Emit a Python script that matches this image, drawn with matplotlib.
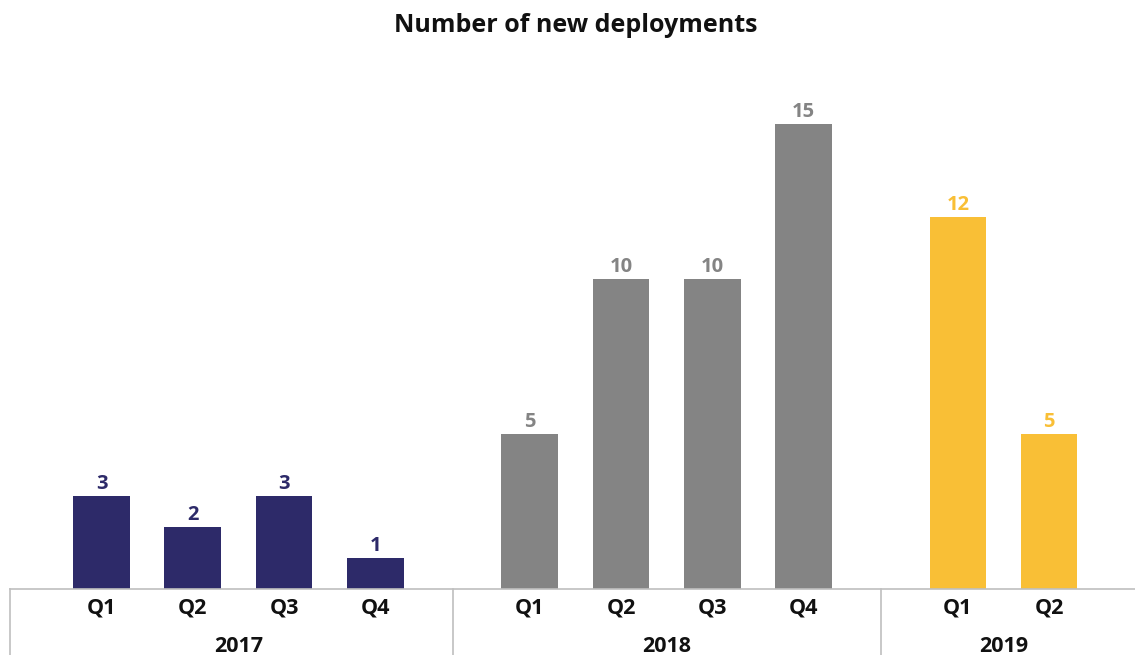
import matplotlib.pyplot as plt
import matplotlib.transforms as mtransforms
import numpy as np

plt.rcParams['font.family'] = ['Open Sans', 'DejaVu Sans']

years = ['2017', '2018', '2019']
quarters = [['Q1', 'Q2', 'Q3', 'Q4'],
            ['Q1', 'Q2', 'Q3', 'Q4'],
            ['Q1', 'Q2']]
values = [[3, 2, 3, 1],
          [5, 10, 10, 15],
          [12, 5]]
colors = ['#2D2A69', '#848484', '#F9BF36']

W, H = 1135, 655
fig = plt.figure(figsize=(W / 100, H / 100), dpi=100)
# axes box in pixels: left 10, right 1135, bottom at y=589, top at y=60
ax = fig.add_axes([10 / W, (H - 589) / H, 1125 / W, 529 / H])

gap = 1.69
pos = []
start = 0.0
for g, vals in enumerate(values):
    xs = start + np.arange(len(vals))
    pos.append(xs)
    start = xs[-1] + gap

for xs, vals, c in zip(pos, values, colors):
    bars = ax.bar(xs, vals, width=0.62, color=c, zorder=2)
    for x, v in zip(xs, vals):
        ax.annotate(str(v), (x, v), xytext=(0, 1.5), textcoords='offset points',
                    ha='center', va='bottom', fontsize=14.5, fontweight='bold',
                    color=c)

ax.set_xlim(-1.002, 11.32)
ax.set_ylim(0, 529 / 31)

for s in ['top', 'right', 'left']:
    ax.spines[s].set_visible(False)
ax.spines['bottom'].set_color('#BFBFBF')
ax.spines['bottom'].set_linewidth(1.2)
ax.set_yticks([])

all_x = np.concatenate(pos)
all_q = [q for qs in quarters for q in qs]
ax.set_xticks(all_x)
ax.set_xticklabels(all_q, fontsize=15.5, fontweight='bold', color='#111111')
ax.tick_params(axis='x', length=0, pad=6)

trans = mtransforms.blended_transform_factory(ax.transData, ax.transAxes)
bottom = -66 / 529
seps = [-1.0] + [(pos[i][-1] + pos[i + 1][0]) / 2 for i in range(len(pos) - 1)]
for s in seps:
    ax.plot([s, s], [0, bottom], transform=trans, color='#BFBFBF', lw=1.2,
            clip_on=False)

for xs, yr in zip(pos, years):
    ax.text(xs.mean(), -57 / 529, yr, transform=trans, ha='center', va='center',
            fontsize=15.5, fontweight='bold', color='#111111')

fig.text(576 / W, 1 - 25 / H, 'Number of new deployments', ha='center',
         va='center', fontsize=18, fontweight='bold', color='#111111')

fig.savefig('out.png', dpi=100)
